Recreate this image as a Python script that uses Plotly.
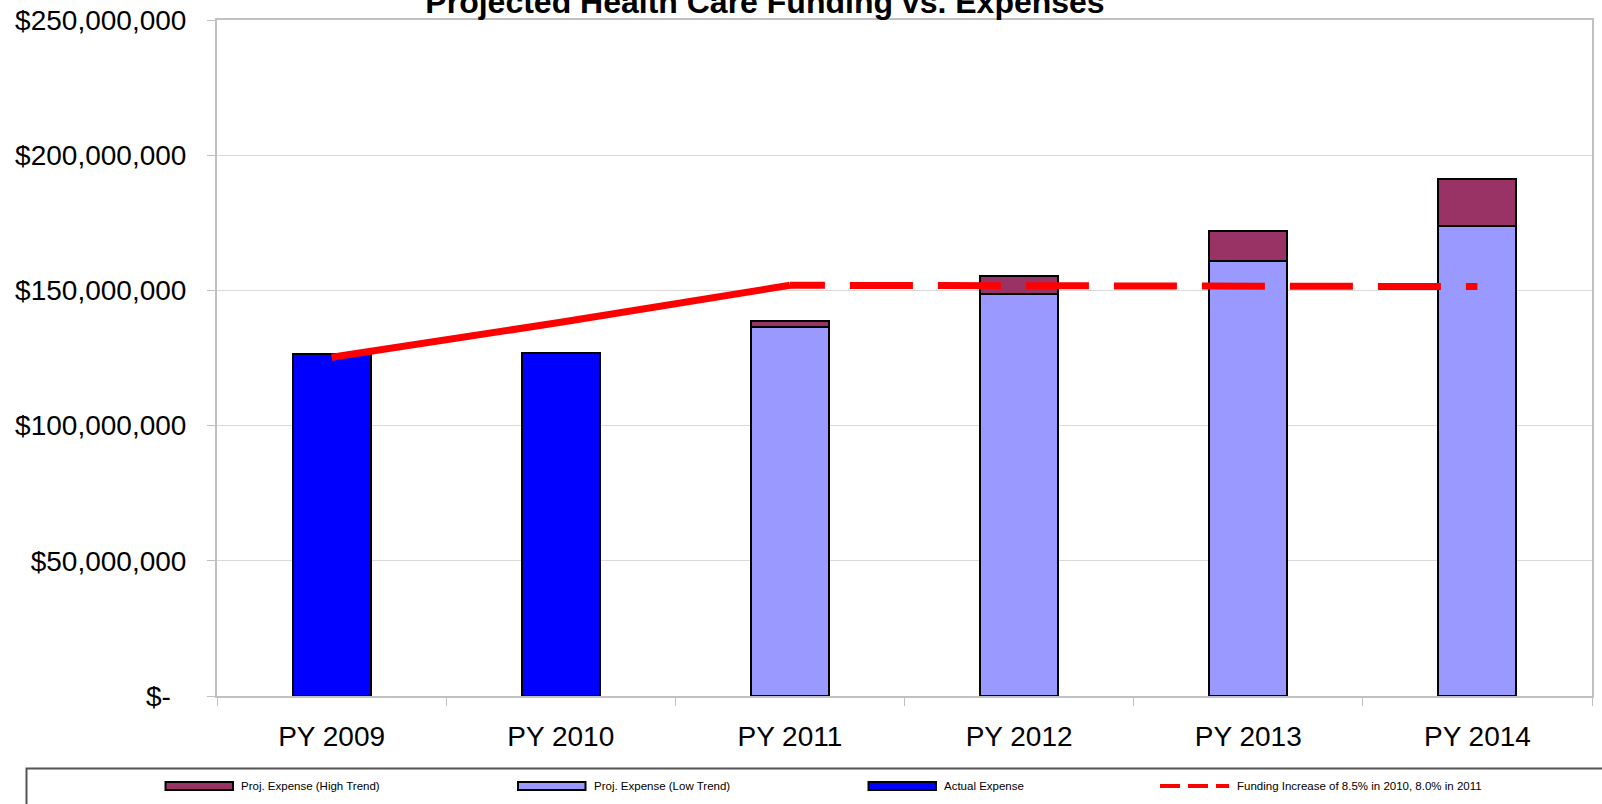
import plotly.graph_objects as go

categories = ["PY 2009", "PY 2010", "PY 2011", "PY 2012", "PY 2013", "PY 2014"]
actual_expense = [126.4e6, 127.0e6, None, None, None, None]
low_trend = [None, None, 136.6e6, 148.7e6, 160.9e6, 174.0e6]
high_trend_extra = [None, None, 2.2e6, 6.7e6, 11.2e6, 17.1e6]
funding = [125.3e6, 138.2e6, 151.9e6, 151.7e6, 151.5e6, 151.4e6]
y_tick_vals = [0, 50e6, 100e6, 150e6, 200e6, 250e6]
y_tick_text = ["$-\u00a0\u00a0", "$50,000,000", "$100,000,000", "$150,000,000",
               "$200,000,000", "$250,000,000"]

legend_names = ["Proj. Expense (High Trend)", "Proj. Expense (Low Trend)",
                "Actual Expense", "Funding Increase of 8.5% in 2010, 8.0% in 2011"]

FONT = "Liberation Sans, Arial, sans-serif"
W, H = 1602, 804
ML, MR, MT, MB = 217, 10, 20, 108
PW, PH = W - ML - MR, H - MT - MB

def px(x):
    return (x - ML) / PW

def py(y):
    return (H - MB - y) / PH

fig = go.Figure()
fig.add_trace(go.Bar(x=categories, y=actual_expense, name=legend_names[2],
                     marker=dict(color="#0000FF", line=dict(color="black", width=2)),
                     showlegend=False))
fig.add_trace(go.Bar(x=categories, y=low_trend, name=legend_names[1],
                     marker=dict(color="#9999FF", line=dict(color="black", width=2)),
                     showlegend=False))
fig.add_trace(go.Bar(x=categories, y=high_trend_extra, name=legend_names[0],
                     marker=dict(color="#993366", line=dict(color="black", width=2)),
                     showlegend=False))
fig.add_trace(go.Scatter(x=categories[:3], y=funding[:3], mode="lines",
                         line=dict(color="#FF0000", width=7), showlegend=False,
                         name=legend_names[3]))
fig.add_trace(go.Scatter(x=categories[2:], y=funding[2:], mode="lines",
                         line=dict(color="#FF0000", width=7,
                                   dash="35px,25px" + ",63px,25px" * 7),
                         showlegend=False, name=legend_names[3]))

# custom Excel-style legend
shapes = []
annotations = []
shapes.append(dict(type="rect", xref="paper", yref="paper",
                   x0=px(26.5), x1=px(1620), y0=py(768.5), y1=py(820),
                   line=dict(color="#555555", width=2), fillcolor="rgba(0,0,0,0)"))
legend_items = [
    (165.5, 233, "#993366", legend_names[0]),
    (518, 585.5, "#9999FF", legend_names[1]),
    (868.5, 936, "#0000FF", legend_names[2]),
]
LY = 786
for x0, x1, col, name in legend_items:
    shapes.append(dict(type="rect", xref="paper", yref="paper",
                       x0=px(x0), x1=px(x1), y0=py(LY + 4), y1=py(LY - 4),
                       line=dict(color="black", width=2), fillcolor=col))
    annotations.append(dict(text=name, xref="paper", yref="paper",
                            x=px(x1 + 6), y=py(LY), xanchor="left", yanchor="middle",
                            showarrow=False, font=dict(family=FONT, size=11.5, color="black")))
shapes.append(dict(type="line", xref="paper", yref="paper",
                   x0=px(1160), x1=px(1229), y0=py(LY), y1=py(LY),
                   line=dict(color="#FF0000", width=4, dash="20px,8px")))
annotations.append(dict(text=legend_names[3], xref="paper", yref="paper",
                        x=px(1235), y=py(LY), xanchor="left", yanchor="middle",
                        showarrow=False, font=dict(family=FONT, size=11.5, color="black")))

fig.update_layout(
    width=W, height=H,
    margin=dict(l=ML, r=MR, t=MT, b=MB),
    paper_bgcolor="white", plot_bgcolor="white",
    barmode="stack", bargap=0.66,
    showlegend=False,
    title=dict(text="<b>Projected Health Care Funding vs. Expenses</b>",
               x=765 / W, xref="container", xanchor="center",
               y=1 - 2 / H, yref="container", yanchor="middle",
               font=dict(family=FONT, size=32, color="black")),
    font=dict(family=FONT, color="black"),
    shapes=shapes, annotations=annotations,
)
fig.update_yaxes(range=[0, 250e6], tickvals=y_tick_vals, ticktext=y_tick_text,
                 tickfont=dict(family=FONT, size=28, color="black"),
                 showgrid=True, gridcolor="#d9d9d9", gridwidth=1,
                 showline=True, linecolor="#c0c0c0", linewidth=2, mirror=True,
                 ticks="outside", ticklen=8, tickcolor="#c0c0c0", tickwidth=1,
                 ticklabelstandoff=15, zeroline=False, automargin=False)
fig.update_xaxes(tickfont=dict(family=FONT, size=28, color="black"),
                 showline=True, linecolor="#c0c0c0", linewidth=2, mirror=True,
                 ticks="outside", ticklen=8, tickcolor="#c0c0c0", tickwidth=1,
                 tickson="boundaries", ticklabelstandoff=14, showgrid=False,
                 automargin=False)

fig.write_html("out.html")
